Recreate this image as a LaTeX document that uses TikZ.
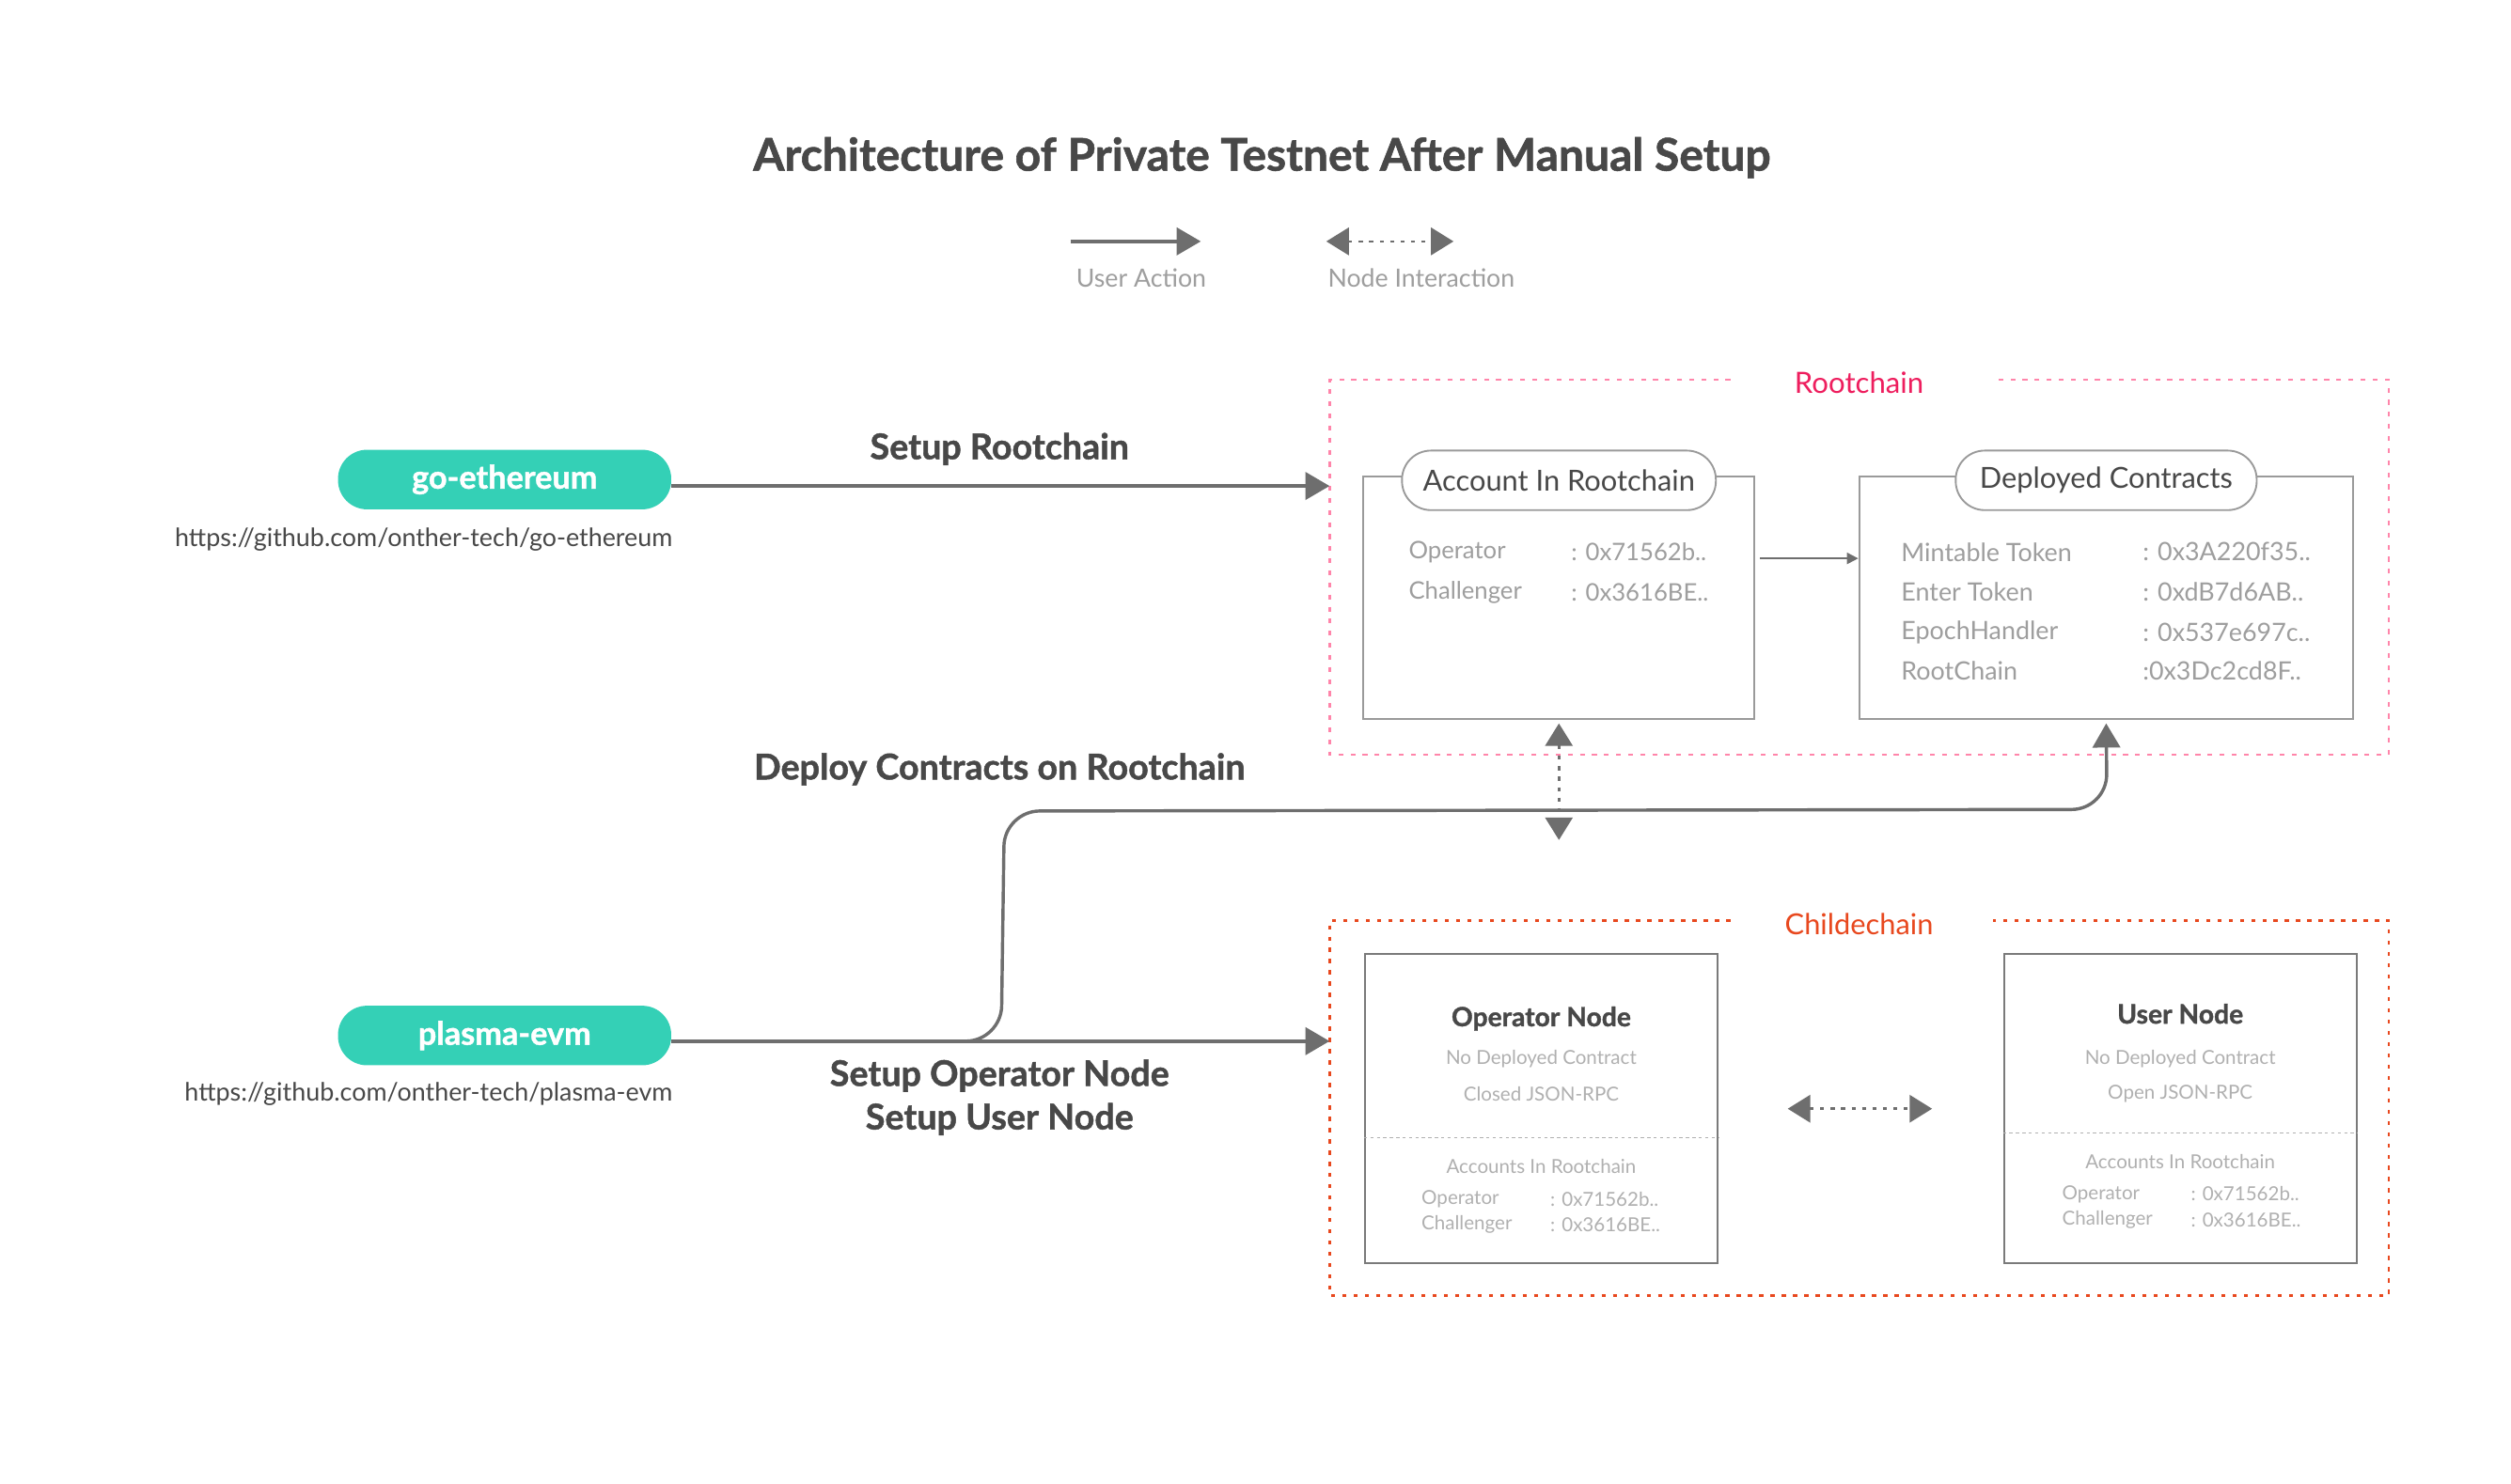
\documentclass[tikz,border=0pt]{standalone}
\usepackage{fontspec}
\setmainfont{Lato}
\usetikzlibrary{arrows.meta}
\definecolor{darktext}{HTML}{484848}
\definecolor{arrowgray}{HTML}{6E6E6E}
\definecolor{boxgray}{HTML}{9A9A9A}
\definecolor{nodegray}{HTML}{7A7A7A}
\definecolor{lighttext}{HTML}{9E9E9E}
\definecolor{palertext}{HTML}{B0B0B0}
\definecolor{teal}{HTML}{34D0B6}
\definecolor{pinkline}{HTML}{FF85AA}
\definecolor{pinktext}{HTML}{EE1E5E}
\definecolor{orangeline}{HTML}{E8481E}
\newcommand{\fsz}[1]{\fontsize{#1}{#1}\selectfont}
\newcommand{\heavy}{\bfseries\addfontfeature{FakeBold=1.2}}
\begin{document}
\begin{tikzpicture}[x=1pt,y=-1pt,
  boldlbl/.style={font=\fsz{22}\heavy, text=darktext, inner sep=0},
  urltext/.style={font=\fsz{15.7}, text=darktext, inner sep=0, anchor=east},
  legendtext/.style={font=\fsz{15.6}, text=lighttext, inner sep=0},
  pillnode/.style={fill=teal, rounded corners=18pt, minimum width=207pt, minimum height=37pt, inner sep=0, text=white, font=\fsz{20}\heavy},
  framebox/.style={draw=boxgray, line width=1.1pt, inner sep=0, fill=white},
  headpill/.style={draw=boxgray, line width=1.1pt, fill=white, rounded corners=18pt, minimum height=37pt, inner sep=0, font=\fsz{18}, text=darktext},
  rowlbl/.style={font=\fsz{15.7}, text=lighttext, inner sep=0, anchor=west},
  chainbox/.style={draw=nodegray, line width=1.3pt, inner sep=0, fill=white},
  nodetitle/.style={font=\fsz{16.5}\heavy, text=darktext, inner sep=0},
  smalltext/.style={font=\fsz{12}, text=palertext, inner sep=0},
  smallrow/.style={font=\fsz{12}, text=palertext, inner sep=0, anchor=west},
  useraction/.style={draw=arrowgray, line width=2pt, -{Triangle[length=15pt,width=17pt]}},
  nodeinter/.style={draw=arrowgray, line width=1.5pt, dash pattern=on 2.5pt off 4pt, {Triangle[length=14pt,width=17pt]}-{Triangle[length=14pt,width=17pt]}},
  thinarrow/.style={draw=arrowgray, line width=1.1pt, -{Triangle[length=7pt,width=7pt]}},
  pinkdash/.style={draw=pinkline, line width=1.5pt, dash pattern=on 3pt off 4.5pt},
  orangedash/.style={draw=orangeline, line width=1.6pt, dash pattern=on 2.5pt off 4.5pt},
  sepline/.style={draw=palertext, line width=0.9pt, dash pattern=on 2pt off 2pt}
]
\useasboundingbox (0,0) rectangle (1560,922);
\fill[white] (0,0) rectangle (1560,922);

% Title
\node[font=\fsz{28}\heavy, text=darktext, inner sep=0] (title) at (784,98) {Architecture of Private Testnet After Manual Setup};

% Legend
\coordinate (lua) at (665,150);
\coordinate (lub) at (746,150);
\draw[useraction] (lua) -- (lub);
\node[legendtext] (lualbl) at (709,173) {User Action};
\coordinate (lnia) at (824,150);
\coordinate (lnib) at (903,150);
\draw[nodeinter] (lnia) -- (lnib);
\node[legendtext] (lnilbl) at (883,173) {Node Interaction};

% Frames
\draw[pinkdash] (1075,236) -- (826,236) -- (826,469) -- (1484,469) -- (1484,236) -- (1238,236);
\node[font=\fsz{18.2}, text=pinktext, inner sep=0] (rootlbl) at (1155,238) {Rootchain};
\draw[orangedash] (1075,572) -- (826,572) -- (826,805) -- (1484,805) -- (1484,572) -- (1238,572);
\node[font=\fsz{18}, text=orangeline, inner sep=0] (childlbl) at (1155,574) {Childechain};

% Source pills
\node[pillnode] (geth) at (313.5,298) {go-ethereum};
\node[urltext] (gethurl) at (418,335) {https://github.com/onther-tech/go-ethereum};
\node[pillnode] (pevm) at (313.5,643.5) {plasma-evm};
\node[urltext] (pevmurl) at (418,680) {https://github.com/onther-tech/plasma-evm};

% Rootchain boxes
\node[framebox, minimum width=243pt, minimum height=151pt] (acct) at (968.5,371.5) {};
\node[headpill, minimum width=195pt] (accthead) at (968.5,298.5) {Account In Rootchain};
\node[rowlbl, font=\fsz{15}] (aop) at (875,343) {Operator};
\node[rowlbl, font=\fsz{15}] (aopv) at (976,343) {: 0x71562b..};
\node[rowlbl, font=\fsz{15}] (ach) at (875,368) {Challenger};
\node[rowlbl, font=\fsz{15}] (achv) at (976,368) {: 0x3616BE..};

\node[framebox, minimum width=307pt, minimum height=151pt] (dep) at (1308.5,371.5) {};
\node[headpill, minimum width=187pt] (dephead) at (1308.5,298.5) {Deployed Contracts};
\node[rowlbl] (d1) at (1181,343) {Mintable Token};
\node[rowlbl] (d1v) at (1331,343) {: 0x3A220f35..};
\node[rowlbl] (d2) at (1181,368) {Enter Token};
\node[rowlbl] (d2v) at (1331,368) {: 0xdB7d6AB..};
\node[rowlbl] (d3) at (1181,393) {EpochHandler};
\node[rowlbl] (d3v) at (1331,393) {: 0x537e697c..};
\node[rowlbl] (d4) at (1181,417) {RootChain};
\node[rowlbl] (d4v) at (1331,417) {:0x3Dc2cd8F..};

\draw[thinarrow] ([xshift=3pt,yshift=24.5pt]acct.east) -- ([yshift=24.5pt]dep.west);

% Childchain boxes
\node[chainbox, minimum width=219pt, minimum height=192pt] (opnode) at (957.5,689) {};
\node[nodetitle] (optitle) at (957.5,633) {Operator Node};
\node[smalltext] (opa) at (957.5,658) {No Deployed Contract};
\node[smalltext] (opb) at (957.5,680) {Closed JSON-RPC};
\draw[sepline] ([yshift=-18pt]opnode.west) -- ([yshift=-18pt]opnode.east);
\node[smalltext] (opc) at (957.5,725) {Accounts In Rootchain};
\node[smallrow] (opd) at (883,745) {Operator};
\node[smallrow] (opdv) at (963,745) {: 0x71562b..};
\node[smallrow] (ope) at (883,761) {Challenger};
\node[smallrow] (opev) at (963,761) {: 0x3616BE..};

\node[chainbox, minimum width=219pt, minimum height=192pt] (usnode) at (1354.5,689) {};
\node[nodetitle] (ustitle) at (1354.5,630) {User Node};
\node[smalltext] (usa) at (1354.5,658) {No Deployed Contract};
\node[smalltext] (usb) at (1354.5,680) {Open JSON-RPC};
\draw[sepline] ([yshift=-15pt]usnode.west) -- ([yshift=-15pt]usnode.east);
\node[smalltext] (usc) at (1354.5,722) {Accounts In Rootchain};
\node[smallrow] (usd) at (1281,742) {Operator};
\node[smallrow] (usdv) at (1361,742) {: 0x71562b..};
\node[smallrow] (use) at (1281,758) {Challenger};
\node[smallrow] (usev) at (1361,758) {: 0x3616BE..};

\draw[nodeinter] ([xshift=43pt]opnode.east) -- ([xshift=-44pt]usnode.west);

% Connectors
\coordinate (rcin) at (826,302);
\draw[useraction] ([yshift=-4pt]geth.east) -- (rcin);
\node[boldlbl] (setroot) at (621,279) {Setup Rootchain};

\coordinate (ccin) at (826,647);
\draw[useraction] ([yshift=-3.5pt]pevm.east) -- (ccin);
\node[boldlbl, align=center, font=\fontsize{22}{27}\selectfont\heavy] (setnodes) at (621,682) {Setup Operator Node\\Setup User Node};

\draw[useraction, rounded corners=22pt] ([yshift=-3.5pt]pevm.east) -- (622,647) -- (624,504) -- (1309,503) -- ([yshift=-2pt]dep.south);
\node[boldlbl] (deploylbl) at (621,478) {Deploy Contracts on Rootchain};

\coordinate (rcdown) at (968.5,522);
\draw[nodeinter] ([yshift=-2pt]acct.south) -- (rcdown);
\end{tikzpicture}
\end{document}
